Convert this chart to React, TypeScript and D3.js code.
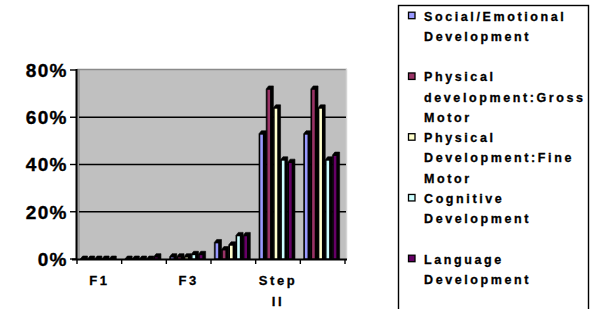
import React from "react";
import * as d3 from "d3";

const categoryLabels: string[][] = [["F1"], [], ["F3"], [], ["Step", "II"], []];
const seriesNames: string[][] = [
  ["Social/Emotional", "Development"],
  ["Physical", "development:Gross", "Motor"],
  ["Physical", "Development:Fine", "Motor"],
  ["Cognitive", "Development"],
  ["Language", "Development"],
];
const seriesColors = ["#9999FF", "#993366", "#FFFFCC", "#CCFFFF", "#660066"];
const socialValues = [0, 0, 1, 7, 53, 53];
const grossValues = [0, 0, 1, 4, 72, 72];
const fineValues = [0, 0, 1, 6, 64, 64];
const cognitiveValues = [0, 0, 2, 10, 42, 42];
const languageValues = [0, 1, 2, 10, 41, 44];
const yTicks = [0, 20, 40, 60, 80];

const series = [socialValues, grossValues, fineValues, cognitiveValues, languageValues];

const FONT = "'Liberation Sans', Arial, sans-serif";

export default function App() {
  const plotL = 77, plotR = 347, plotT = 69, base = 259;
  const x = d3.scaleBand<number>().domain(d3.range(categoryLabels.length)).range([77, 345]).padding(0);
  const bw = x.bandwidth();
  const inner = d3.scaleBand<number>().domain(d3.range(series.length)).range([3.3, 3.3 + 36]).padding(0);
  const y = d3.scaleLinear().domain([0, 80]).range([base, 70]);
  const slot = inner.bandwidth();
  const dx = 2.4, dy = 3;
  const w = slot - dx;

  const bars: React.ReactNode[] = [];
  categoryLabels.forEach((_, ci) => {
    series.forEach((vals, si) => {
      const x0 = (x(ci) as number) + (inner(si) as number);
      const yt = y(vals[ci]);
      const pts = [
        [x0, base],
        [x0, yt],
        [x0 + dx, yt - dy],
        [x0 + w + dx, yt - dy],
        [x0 + w + dx, base],
      ];
      bars.push(
        <g key={`b${ci}-${si}`}>
          <polygon points={pts.map((p) => p.join(",")).join(" ")} fill="#000" stroke="#000" strokeWidth={0.6} />
          {base - yt > 1.5 && (
            <rect x={x0 + 1.3} y={yt + 0.9} width={w - 2.2} height={base - yt - 1.4} fill={seriesColors[si]} />
          )}
        </g>
      );
    });
  });

  const rowBase = (r: number) => 20.7 + r * 20.25;
  const legendItems: React.ReactNode[] = [];
  let row = 0;
  seriesNames.forEach((lines, si) => {
    const b = rowBase(row);
    legendItems.push(
      <g key={`l${si}`}>
        <rect x={408.5} y={b - 8.5} width={6.5} height={6.5} fill={seriesColors[si]} stroke="#000" strokeWidth={1.3} />
        {lines.map((t, li) => (
          <text key={li} x={424} y={rowBase(row + li)} fontFamily={FONT} fontWeight="bold" fontSize={12.5} letterSpacing={2.6} fill="#000" stroke="#000" strokeWidth={0.3}>
            {t}
          </text>
        ))}
      </g>
    );
    row += 3;
  });

  return (
    <svg width={598} height={309} style={{ position: "absolute", left: 0, top: 0, background: "#fff" }}>
      {/* plot area */}
      <rect x={plotL} y={plotT} width={plotR - plotL} height={base - plotT} fill="#C0C0C0" />
      <rect x={plotL} y={plotT} width={3} height={base - plotT} fill="#A0A0A0" />
      <line x1={plotL} x2={plotR} y1={plotT + 0.5} y2={plotT + 0.5} stroke="#8A8A8A" strokeWidth={1.5} />
      <line x1={plotR - 0.5} x2={plotR - 0.5} y1={plotT} y2={base} stroke="#D4D4D4" strokeWidth={1.5} />
      {yTicks.filter((t) => t > 0 && t < 80).map((t) => (
        <line key={`g${t}`} x1={plotL + 2} x2={plotR - 1} y1={y(t)} y2={y(t)} stroke="#000" strokeWidth={1.4} />
      ))}
      {bars}
      {/* axes */}
      <line x1={76.5} x2={76.5} y1={plotT} y2={base + 1} stroke="#000" strokeWidth={2} />
      <line x1={72} x2={plotR} y1={base + 0.5} y2={base + 0.5} stroke="#000" strokeWidth={2} />
      {yTicks.map((t) => (
        <g key={`yt${t}`}>
          <line x1={70} x2={77} y1={y(t)} y2={y(t)} stroke="#000" strokeWidth={1.4} />
          <text x={67.5} y={y(t) + 6.8} textAnchor="end" fontFamily={FONT} fontWeight="bold" fontSize={19} letterSpacing={1.2} fill="#000" stroke="#000" strokeWidth={0.35}>
            {`${t}%`}
          </text>
        </g>
      ))}
      {d3.range(categoryLabels.length + 1).map((i) => {
        const xx = 77 + i * bw;
        return <line key={`xt${i}`} x1={xx} x2={xx} y1={base} y2={base + 5} stroke="#000" strokeWidth={1.4} />;
      })}
      {categoryLabels.map((lines, ci) =>
        lines.map((t, li) => (
          <text key={`xl${ci}-${li}`} x={(x(ci) as number) + bw / 2} y={285 + li * 21} textAnchor="middle" fontFamily={FONT} fontWeight="bold" fontSize={13} letterSpacing={2.6} fill="#000" stroke="#000" strokeWidth={0.3}>
            {t}
          </text>
        ))
      )}
      {/* legend */}
      <rect x={398.5} y={5.5} width={190} height={330} fill="#fff" stroke="#000" strokeWidth={1.4} />
      {legendItems}
    </svg>
  );
}
